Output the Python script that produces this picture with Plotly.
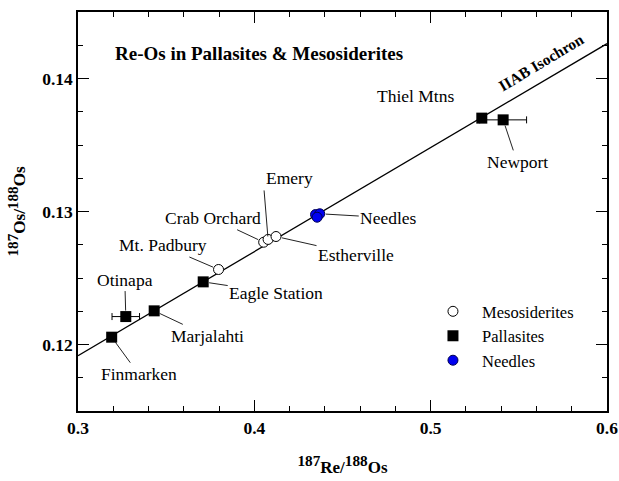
import plotly.graph_objects as go

# ---------------- data ----------------
meso_names = ["Mt. Padbury", "Crab Orchard", "Emery", "Estherville"]
meso_re = [0.3797, 0.4053, 0.4078, 0.4123]
meso_os = [0.12564, 0.12769, 0.12790, 0.12812]

pall_names = ["Finmarken", "Otinapa", "Marjalahti", "Eagle Station", "Thiel Mtns", "Newport"]
pall_re = [0.3191, 0.3271, 0.3432, 0.3710, 0.5290, 0.5411]
pall_os = [0.12055, 0.12210, 0.12253, 0.12471, 0.13702, 0.13689]
pall_re_err = [0.0, 0.0078, 0.0, 0.0, 0.0, 0.0133]

needles_re = [0.4347, 0.4371, 0.4356]
needles_os = [0.12977, 0.12983, 0.12957]

iso_slope = 0.0782
iso_intercept = 0.0957

x_ticks = [0.3, 0.4, 0.5, 0.6]
y_ticks = [0.12, 0.13, 0.14]
x_range = [0.3, 0.6]
y_range = [0.115, 0.145]

# ---------------- styling ----------------
FONT = "Liberation Serif, Times New Roman, serif"
LABEL_SIZE = 17.5

fig = go.Figure()

iso_x = list(x_range)
iso_y = [iso_intercept + iso_slope * v for v in iso_x]
fig.add_trace(go.Scatter(x=iso_x, y=iso_y, mode="lines",
                         line=dict(color="black", width=1.3),
                         showlegend=False, hoverinfo="skip"))

fig.add_trace(go.Scatter(x=meso_re, y=meso_os, mode="markers", name="Mesosiderites",
                         marker=dict(symbol="circle", size=10, color="white",
                                     line=dict(color="black", width=1))))
fig.add_trace(go.Scatter(x=pall_re, y=pall_os, mode="markers", name="Pallasites",
                         marker=dict(symbol="square", size=11, color="black"),
                         error_x=dict(type="data", array=pall_re_err, visible=True,
                                      color="black", thickness=1, width=3.5)))
fig.add_trace(go.Scatter(x=needles_re, y=needles_os, mode="markers", name="Needles",
                         marker=dict(symbol="circle", size=10, color="#0000f0",
                                     line=dict(color="#000050", width=1))))

# label placement (pixels: arrow-tail offset from the point, and text anchors)
offsets = {
    "Finmarken": (27, 37), "Otinapa": (-1, -37), "Marjalahti": (53, 25),
    "Eagle Station": (73, 11), "Thiel Mtns": (-66, -22), "Newport": (14, 42),
    "Mt. Padbury": (-56, -24), "Crab Orchard": (-51, -24), "Emery": (-4, -49),
    "Estherville": (80, 18), "Needles": (69, 4),
}
anchors = {"Emery": ("left", "bottom")}
no_arrow = {"Thiel Mtns"}

def add_label(name, x, y):
    ax, ay = offsets[name]
    font = dict(family=FONT, size=LABEL_SIZE, color="black")
    if name in no_arrow:
        fig.add_annotation(x=x, y=y, text=name, showarrow=False, xshift=ax, yshift=-ay,
                           font=font)
    else:
        xa, ya = anchors.get(name, ("auto", "auto"))
        fig.add_annotation(x=x, y=y, text=name, showarrow=True, ax=ax, ay=ay,
                           xanchor=xa, yanchor=ya,
                           arrowhead=0, arrowwidth=1, arrowcolor="#222222",
                           standoff=3 if name == "Emery" else 6,
                           borderpad=1, font=font)

for n, x, y in zip(meso_names, meso_re, meso_os):
    add_label(n, x, y)
for n, x, y in zip(pall_names, pall_re, pall_os):
    add_label(n, x, y)
add_label("Needles", needles_re[1], needles_os[1])

fig.add_annotation(x=0.066, y=0.895, xref="paper", yref="paper",
                   xanchor="left", yanchor="middle",
                   text="Re-Os in Pallasites & Mesosiderites", showarrow=False,
                   font=dict(family=FONT, size=19, color="black", weight="bold"))
fig.add_annotation(x=0.5625, y=0.14122, text="IIAB Isochron", showarrow=False,
                   textangle=-31,
                   font=dict(family=FONT, size=15.5, color="black", weight="bold"))

axis_common = dict(
    showgrid=False, zeroline=False, showline=True, linecolor="black", linewidth=1.5,
    mirror="ticks", ticks="inside", ticklen=11, tickwidth=1, tickcolor="black",
    automargin=False,
    tickfont=dict(family=FONT, size=17.5, color="black", weight="bold"),
)
sup = lambda s: '<sup><span style="font-size:128%">' + s + '</span></sup>'
fig.update_xaxes(range=x_range, tickvals=x_ticks, ticktext=[f"{v:.1f}" for v in x_ticks],
                 minor=dict(dtick=0.02, tick0=0.3, ticks="inside", ticklen=5,
                            tickcolor="black", tickwidth=1),
                 title=dict(text=sup("187") + "Re/" + sup("188") + "Os", standoff=24,
                            font=dict(family=FONT, size=17, color="black", weight="bold")),
                 **axis_common)
fig.update_yaxes(range=y_range, tickvals=y_ticks, ticktext=[f"{v:.2f}" for v in y_ticks],
                 minor=dict(dtick=0.0025, tick0=0.115, ticks="inside", ticklen=5,
                            tickcolor="black", tickwidth=1),
                 title=dict(text=sup("187") + "Os/" + sup("188") + "Os", standoff=12,
                            font=dict(family=FONT, size=17, color="black", weight="bold")),
                 **axis_common)

fig.update_layout(
    width=619, height=481, margin=dict(l=78, r=12, t=12, b=70),
    plot_bgcolor="white", paper_bgcolor="white",
    legend=dict(x=0.654, y=0.293, xanchor="left", yanchor="top",
                bgcolor="rgba(0,0,0,0)", itemwidth=48,
                font=dict(family=FONT, size=16.5, color="black")),
)

fig.write_html("out.html", config={"displayModeBar": False},
               post_script="document.body.style.margin='0px';")
